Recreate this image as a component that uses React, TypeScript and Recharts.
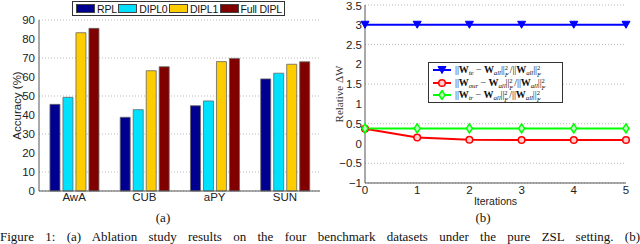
import React from "react";
import {
  Bar,
  BarChart,
  CartesianGrid,
  Legend,
  Line,
  LineChart,
  XAxis,
  YAxis,
} from "recharts";

const datasets = ["AwA", "CUB", "aPY", "SUN"];
const rpl = [45.6, 38.8, 44.9, 59];
const dipl0 = [49.3, 42.8, 47.4, 62];
const dipl1 = [83.3, 63.3, 68.1, 66.7];
const fullDipl = [85.6, 65.4, 69.8, 68];
const accTicks = [0, 10, 20, 30, 40, 50, 60, 70, 80, 90];

const iterations = [0, 1, 2, 3, 4, 5];
const wTe = [3, 3, 3, 3, 3, 3];
const wOur = [0.37, 0.15, 0.095, 0.088, 0.088, 0.088];
const wTr = [0.38, 0.38, 0.38, 0.38, 0.38, 0.38];
const dwTicks = [-1, -0.5, 0, 0.5, 1, 1.5, 2, 2.5, 3, 3.5];

const barSeries = [
  { key: "rpl", name: "RPL", color: "#000090" },
  { key: "dipl0", name: "DIPL0", color: "#00E1FF" },
  { key: "dipl1", name: "DIPL1", color: "#FFCC00" },
  { key: "full", name: "Full DIPL", color: "#800000" },
];

const barData = datasets.map((name, i) => ({
  name,
  rpl: rpl[i],
  dipl0: dipl0[i],
  dipl1: dipl1[i],
  full: fullDipl[i],
}));

const lineData = iterations.map((it, i) => ({
  it,
  te: wTe[i],
  our: wOur[i],
  tr: wTr[i],
}));

const sans = "'Liberation Sans', Arial, sans-serif";
const serif = "'Liberation Serif', 'Times New Roman', serif";
const axisStroke = "#555";
const tickStyle = { fill: "#222", fontSize: 11.5, fontFamily: sans };

function BarLegend() {
  return (
    <div
      style={{
        display: "flex",
        alignItems: "center",
        justifyContent: "space-between",
        boxSizing: "border-box",
        width: 213,
        height: 15,
        border: "1px solid #333",
        background: "#fff",
        padding: "0 2px 0 3px",
        fontFamily: sans,
        fontSize: 10.5,
        letterSpacing: -0.2,
        color: "#111",
        whiteSpace: "nowrap",
      }}
    >
      {barSeries.map((s) => (
        <span key={s.key} style={{ display: "flex", alignItems: "center", flex: "none" }}>
          <span
            style={{
              display: "inline-block",
              flex: "none",
              width: 17,
              height: 7,
              background: s.color,
              border: "1px solid #444",
              marginRight: 2,
            }}
          />
          {s.name}
        </span>
      ))}
    </div>
  );
}

function SupSub() {
  return (
    <span
      style={{
        display: "inline-block",
        position: "relative",
        width: 5,
        height: 0,
        fontSize: 6.5,
        lineHeight: "7px",
      }}
    >
      <span style={{ position: "absolute", left: 0, top: -9 }}>2</span>
      <span style={{ position: "absolute", left: 0, top: -2, fontStyle: "italic" }}>F</span>
    </span>
  );
}

function Sub({ text }: { text: string }) {
  return (
    <span style={{ position: "relative", top: 2, fontSize: 7, fontStyle: "italic", lineHeight: 0 }}>
      {text}
    </span>
  );
}

function Norm({ sub }: { sub: string }) {
  return (
    <span style={{ lineHeight: "12px" }}>
      ||<b>W</b>
      <Sub text={sub} /> &minus; <b>W</b>
      <Sub text="all" />
      ||
      <SupSub />
      /||<b>W</b>
      <Sub text="all" />
      ||
      <SupSub />
    </span>
  );
}

const lineSeries = [
  { key: "te", sub: "te", color: "#0000FF", marker: "tri" },
  { key: "our", sub: "our", color: "#FF0000", marker: "circle" },
  { key: "tr", sub: "tr", color: "#00FF00", marker: "diamond" },
];

function Marker({ type, color, cx, cy }: { type: string; color: string; cx: number; cy: number }) {
  if (type === "tri") {
    return (
      <path
        d={`M${cx - 4},${cy - 3.5} L${cx + 4},${cy - 3.5} L${cx},${cy + 3.5} Z`}
        fill={color}
        stroke={color}
        strokeWidth={1}
      />
    );
  }
  if (type === "diamond") {
    return (
      <path
        d={`M${cx},${cy - 4.5} L${cx + 3},${cy} L${cx},${cy + 4.5} L${cx - 3},${cy} Z`}
        fill="#bfffbf"
        stroke={color}
        strokeWidth={1.5}
      />
    );
  }
  return <circle cx={cx} cy={cy} r={3.3} fill="#ffd0d0" stroke={color} strokeWidth={1.5} />;
}

function LineLegend() {
  return (
    <div
      style={{
        boxSizing: "border-box",
        width: 135,
        height: 41,
        border: "1px solid #333",
        background: "#fff",
        padding: "1px 2px 0 3px",
        fontFamily: serif,
        fontSize: 10,
        letterSpacing: -0.1,
        color: "#111",
        whiteSpace: "nowrap",
      }}
    >
      {lineSeries.map((s) => (
        <div key={s.key} style={{ display: "flex", alignItems: "center", height: 12.6 }}>
          <svg width={20} height={10} style={{ marginRight: 3, flex: "none" }}>
            <line x1={1} y1={5} x2={19} y2={5} stroke={s.color} strokeWidth={2} />
            <Marker type={s.marker} color={s.color} cx={10} cy={5} />
          </svg>
          <Norm sub={s.sub} />
        </div>
      ))}
    </div>
  );
}

const fmtMinus = (v: number) => String(v).replace("-", "\u2212");

export default function App() {
  return (
    <div
      style={{
        position: "absolute",
        left: 0,
        top: 0,
        width: 640,
        height: 244,
        overflow: "hidden",
        background: "#fff",
      }}
    >
      <div style={{ position: "absolute", left: 0, top: 0 }}>
        <BarChart
          width={330}
          height={210}
          data={barData}
          margin={{ top: 20, right: 10, bottom: 0, left: 0 }}
          barCategoryGap="15.6%"
          barGap={3}
        >
          <CartesianGrid vertical={false} stroke="#bbb" strokeDasharray="1 2" />
          <XAxis
            dataKey="name"
            height={19}
            tickLine={false}
            tickSize={0}
            tickMargin={2}
            axisLine={{ stroke: axisStroke }}
            tick={tickStyle}
          />
          <XAxis
            xAxisId="top"
            orientation="top"
            dataKey="name"
            height={0}
            tick={false}
            tickLine={false}
            axisLine={{ stroke: axisStroke }}
          />
          <YAxis
            domain={[0, 90]}
            ticks={accTicks}
            width={39}
            tickLine={false}
            tickSize={0}
            tickMargin={4}
            axisLine={{ stroke: axisStroke }}
            tick={tickStyle}
            label={{
              value: "Accuracy (%)",
              angle: -90,
              position: "center",
              dx: -3,
              style: { fontFamily: sans, fontSize: 11.5, fill: "#222" },
            }}
          />
          <YAxis
            yAxisId="r"
            orientation="right"
            domain={[0, 90]}
            width={0}
            tick={false}
            tickLine={false}
            axisLine={{ stroke: axisStroke }}
          />
          <Legend
            layout="horizontal"
            verticalAlign="middle"
            align="center"
            wrapperStyle={{ left: 72, top: 1, width: 213 }}
            content={() => <BarLegend />}
          />
          {barSeries.map((s) => (
            <Bar
              key={s.key}
              dataKey={s.key}
              name={s.name}
              fill={s.color}
              stroke="#666"
              strokeWidth={0.8}
              isAnimationActive={false}
            />
          ))}
        </BarChart>
      </div>

      <div style={{ position: "absolute", left: 320, top: 0 }}>
        <LineChart
          width={320}
          height={208}
          data={lineData}
          margin={{ top: 5, right: 14, bottom: 0, left: 0 }}
        >
          <CartesianGrid vertical={false} stroke="#bbb" strokeDasharray="1 2" />
          <XAxis
            dataKey="it"
            type="number"
            domain={[0, 5]}
            ticks={iterations}
            height={25}
            tickLine={false}
            tickSize={0}
            tickMargin={3}
            axisLine={{ stroke: axisStroke }}
            tick={tickStyle}
            label={{
              value: "Iterations",
              position: "insideBottom",
              offset: 3,
              style: { fontFamily: sans, fontSize: 10.5, fill: "#222" },
            }}
          />
          <XAxis
            xAxisId="top"
            orientation="top"
            dataKey="it"
            type="number"
            domain={[0, 5]}
            height={0}
            tick={false}
            tickLine={false}
            axisLine={{ stroke: axisStroke }}
          />
          <YAxis
            domain={[-1, 3.5]}
            ticks={dwTicks}
            width={45}
            tickLine={false}
            tickSize={0}
            tickMargin={3}
            tickFormatter={fmtMinus}
            axisLine={{ stroke: axisStroke }}
            tick={tickStyle}
            label={{
              value: "Relative \u0394W",
              angle: -90,
              position: "center",
              dx: -3,
              style: { fontFamily: serif, fontSize: 11, fill: "#333" },
            }}
          />
          <YAxis
            yAxisId="r"
            orientation="right"
            domain={[-1, 3.5]}
            width={0}
            tick={false}
            tickLine={false}
            axisLine={{ stroke: axisStroke }}
          />
          <Legend
            layout="horizontal"
            verticalAlign="middle"
            align="center"
            wrapperStyle={{ left: 108, top: 62, width: 135 }}
            content={() => <LineLegend />}
          />
          {lineSeries.map((s) => (
            <Line
              key={s.key}
              dataKey={s.key}
              stroke={s.color}
              strokeWidth={2}
              type="linear"
              isAnimationActive={false}
              dot={(p: any) => (
                <Marker key={`${s.key}-${p.index}`} type={s.marker} color={s.color} cx={p.cx} cy={p.cy} />
              )}
              activeDot={false}
            />
          ))}
        </LineChart>
      </div>

      <div
        style={{
          position: "absolute",
          left: 150,
          top: 210,
          width: 26,
          textAlign: "center",
          fontFamily: serif,
          fontSize: 13,
          color: "#111",
        }}
      >
        (a)
      </div>
      <div
        style={{
          position: "absolute",
          left: 470,
          top: 210,
          width: 26,
          textAlign: "center",
          fontFamily: serif,
          fontSize: 13,
          color: "#111",
        }}
      >
        (b)
      </div>
      <div
        style={{
          position: "absolute",
          left: 0,
          top: 230,
          width: 640,
          fontFamily: serif,
          fontSize: 13,
          lineHeight: "14px",
          color: "#111",
          textAlign: "justify",
          textAlignLast: "justify",
          whiteSpace: "nowrap",
        }}
      >
        Figure 1: (a) Ablation study results on the four benchmark datasets under the pure ZSL setting. (b)
      </div>
    </div>
  );
}
